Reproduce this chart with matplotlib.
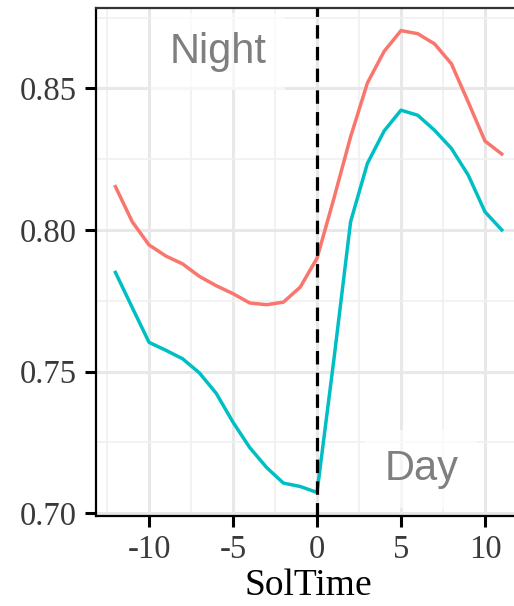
import numpy as np
import matplotlib.pyplot as plt
from matplotlib.ticker import MultipleLocator

# hourly means by solar time
sol_time = np.arange(-12, 12)
red_vals = [0.8153, 0.8029, 0.7947, 0.7908, 0.7880, 0.7836, 0.7803, 0.7775,
            0.7742, 0.7736, 0.7745, 0.7798, 0.7900, 0.8110, 0.8329, 0.8519,
            0.8631, 0.8704, 0.8693, 0.8657, 0.8587, 0.8452, 0.8314, 0.8268]
teal_vals = [0.7850, 0.7726, 0.7603, 0.7575, 0.7545, 0.7495, 0.7423, 0.7321,
             0.7231, 0.7161, 0.7106, 0.7094, 0.7073, 0.7540, 0.8029, 0.8235,
             0.8350, 0.8423, 0.8405, 0.8352, 0.8288, 0.8194, 0.8064, 0.8000]
x_ticks = [-10, -5, 0, 5, 10]
y_ticks = [0.70, 0.75, 0.80, 0.85]

fig = plt.figure(figsize=(5.14, 6.06), dpi=100)
ax = fig.add_axes([0.187, 0.1493, 0.8268, 0.8383])

# ggplot-like 5% expansion
xr = (min(sol_time), max(sol_time))
yr = (min(teal_vals), max(red_vals))
xpad = 0.05 * (xr[1] - xr[0])
ypad = 0.05 * (yr[1] - yr[0])
ax.set_xlim(xr[0] - xpad, xr[1] + xpad)
ax.set_ylim(yr[0] - ypad, yr[1] + ypad)

ax.set_xticks(x_ticks)
ax.set_xticklabels(["-10", "-5", "0", "5", "10"])
ax.set_yticks(y_ticks)
ax.set_yticklabels([f"{v:.2f}" for v in y_ticks])
ax.xaxis.set_minor_locator(MultipleLocator(2.5))
ax.yaxis.set_minor_locator(MultipleLocator(0.025))

ax.grid(which="major", color="#E8E8E8", lw=2.2, zorder=0)
ax.grid(which="minor", color="#F0F0F0", lw=1.2, zorder=0)
ax.set_axisbelow(True)
ax.tick_params(which="minor", length=0)
ax.tick_params(which="major", length=8, width=2.2, color="black",
               labelsize=23.5, labelcolor="#3a3a3a", pad=6)
for lab in ax.get_xticklabels() + ax.get_yticklabels():
    lab.set_family("Liberation Serif")

for side in ["left", "bottom"]:
    ax.spines[side].set_color("black")
    ax.spines[side].set_linewidth(1.6)
ax.spines["top"].set_color("#333333")
ax.spines["top"].set_linewidth(1.6)
ax.spines["right"].set_color("#333333")

ax.plot(sol_time, red_vals, color="#F8766D", lw=2.5, zorder=3)
ax.plot(sol_time, teal_vals, color="#00BFC4", lw=2.5, zorder=3)
ax.axvline(0, color="black", lw=2.3, dashes=(4.2, 2.6), zorder=4)

box = dict(boxstyle="square,pad=0.45", facecolor="white", alpha=0.65, edgecolor="none")
ax.text(-5.9, 0.8630, "Night", fontsize=30, color="#7f7f7f", family="Liberation Sans",
        ha="center", va="center", bbox=box, zorder=5)
ax.text(6.2, 0.7155, "Day", fontsize=30, color="#7f7f7f", family="Liberation Sans",
        ha="center", va="center", bbox=box, zorder=5)

ax.set_xlabel("SolTime", family="Liberation Serif", fontsize=27, color="black", labelpad=2)

fig.savefig("out.png", dpi=100)
